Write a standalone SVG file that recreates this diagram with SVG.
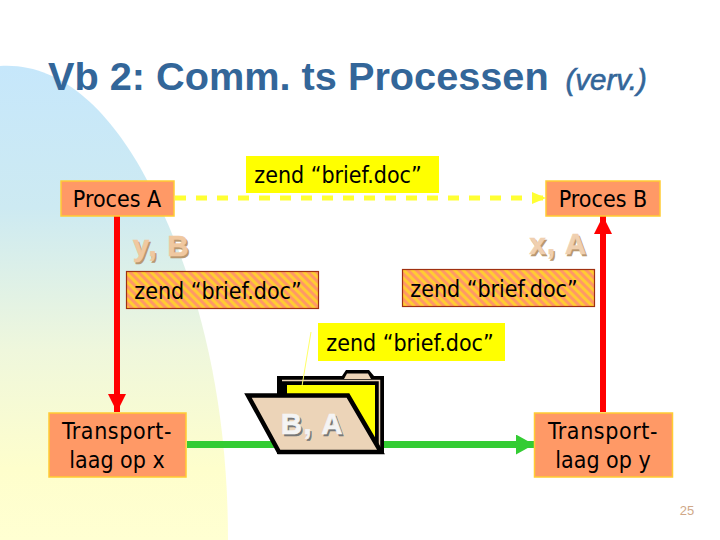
<svg xmlns="http://www.w3.org/2000/svg" width="720" height="540" viewBox="0 0 720 540">
<style>
.t{font-family:"DejaVu Sans Condensed","DejaVu Sans",sans-serif;font-size:23px;fill:#000;text-anchor:middle}
.o{fill:#ff9966;stroke:#ffcc33;stroke-width:1.5}
.h{fill:url(#hatch);stroke:#a03010;stroke-width:1.2}
.y{fill:#ffff00}
.s{font-family:"Liberation Sans",sans-serif;font-size:29px;font-weight:bold;text-anchor:middle;letter-spacing:1.5px;stroke-width:.7px}
</style>
<defs>
<linearGradient id="bg" gradientUnits="userSpaceOnUse" x1="0" y1="66" x2="0" y2="540">
<stop offset="0" stop-color="#c6e7fb"/><stop offset="0.3" stop-color="#cdeaf2"/><stop offset="0.6" stop-color="#eff7dc"/><stop offset="0.85" stop-color="#fefecc"/><stop offset="1" stop-color="#ffffd2"/>
</linearGradient>
<pattern id="hatch" width="6" height="6" patternUnits="userSpaceOnUse" patternTransform="rotate(-45)">
<rect width="6" height="6" fill="#ffcc33"/><rect width="3" height="6" fill="#ff9966"/>
</pattern>
<marker id="ar" markerUnits="userSpaceOnUse" markerWidth="18" markerHeight="18" refX="18" refY="9" orient="auto"><path d="M0 0L18 9L0 18Z" fill="#ff0000"/></marker>
<marker id="ag" markerUnits="userSpaceOnUse" markerWidth="18" markerHeight="20" refX="18" refY="10" orient="auto"><path d="M0 0L18 10L0 20Z" fill="#33cc33"/></marker>
<marker id="ay" markerUnits="userSpaceOnUse" markerWidth="14" markerHeight="12" refX="14" refY="6" orient="auto"><path d="M0 0L14 6L0 12Z" fill="#ffff33"/></marker>
</defs>
<path id="background" d="M0 66C60 62 110 110 147 180C190 262 228 380 228 540L0 540Z" fill="url(#bg)"/>
<text id="title" x="48" y="90" font-family="'Liberation Sans',sans-serif" font-size="39.700" font-weight="bold" fill="#336699">Vb 2: Comm. ts Processen</text>
<text id="title-note" x="565.500" y="90" font-family="'Liberation Sans',sans-serif" font-size="29.500" font-style="italic" fill="#336699" stroke="#336699" stroke-width=".6">(verv.)</text>
<g id="connectors" fill="none">
<path d="M175 198H546" stroke="#ffff33" stroke-width="5" stroke-dasharray="11 10" marker-end="url(#ay)"/>
<path d="M117 216V412" stroke="#ff0000" stroke-width="6" marker-end="url(#ar)"/>
<path d="M603 412V216" stroke="#ff0000" stroke-width="6" marker-end="url(#ar)"/>
<path d="M187 444.500H534" stroke="#33cc33" stroke-width="7" marker-end="url(#ag)"/>
</g>
<g id="proces-a"><rect class="o" x="61" y="181" width="113" height="35"/><text class="t" x="117" y="207">Proces A</text></g>
<g id="proces-b"><rect class="o" x="546" y="181" width="114" height="35"/><text class="t" x="603" y="207">Proces B</text></g>
<g id="label-top"><rect class="y" x="246" y="156" width="193" height="37"/><text class="t" x="338" y="183">zend “brief.doc”</text></g>
<g id="addr-yb"><text class="s" x="163" y="257.500" fill="#b89870" stroke="#b89870">y, B</text><text class="s" x="161.500" y="256" fill="#f0c8a0" stroke="#f0c8a0">y, B</text></g>
<g id="addr-xa"><text class="s" x="560" y="255.500" fill="#b89870" stroke="#b89870">x, A</text><text class="s" x="558.500" y="254" fill="#f0d0b0" stroke="#f0d0b0">x, A</text></g>
<g id="label-left"><rect class="h" x="126.500" y="271.500" width="192" height="37"/><text class="t" x="218" y="299">zend “brief.doc”</text></g>
<g id="label-right"><rect class="h" x="402.500" y="269.500" width="192" height="37"/><text class="t" x="494" y="297">zend “brief.doc”</text></g>
<g id="label-folder"><rect class="y" x="318" y="323" width="187" height="38"/><text class="t" x="410" y="351">zend “brief.doc”</text></g>
<g id="folder">
<path d="M277 454V376H342L346 370H369L374 376H384V454Z" fill="#000"/>
<path d="M344 379L347 373.500H368L371 379Z" fill="#ecd4b8"/>
<path d="M282 380.500H379.500V450" fill="none" stroke="#ecd4b8" stroke-width="1.500"/>
<rect x="287" y="385" width="88" height="64" fill="#ffff00"/>
<path d="M248 395.500H348L381 452H279Z" fill="#ecd4b8" stroke="#000" stroke-width="4.500" stroke-linejoin="miter"/>
<path d="M311 332L302 386" stroke="#ffff66" stroke-width="1" fill="none"/>
<text class="s" x="314" y="435.500" fill="#777" stroke="#777">B, A</text><text class="s" x="312.500" y="434" fill="#f4f4f4" stroke="#f4f4f4">B, A</text>
</g>
<g id="transport-x"><rect class="o" x="49" y="413" width="137" height="64"/><text class="t" x="117" y="439" letter-spacing=".6">Transport-</text><text class="t" x="117" y="468">laag op x</text></g>
<g id="transport-y"><rect class="o" x="534.500" y="413" width="138" height="64"/><text class="t" x="603" y="439" letter-spacing=".6">Transport-</text><text class="t" x="603" y="468">laag op y</text></g>
<text id="page" x="687" y="515" font-family="'Liberation Sans',sans-serif" font-size="13" fill="#d0a888" text-anchor="middle">25</text>
</svg>
